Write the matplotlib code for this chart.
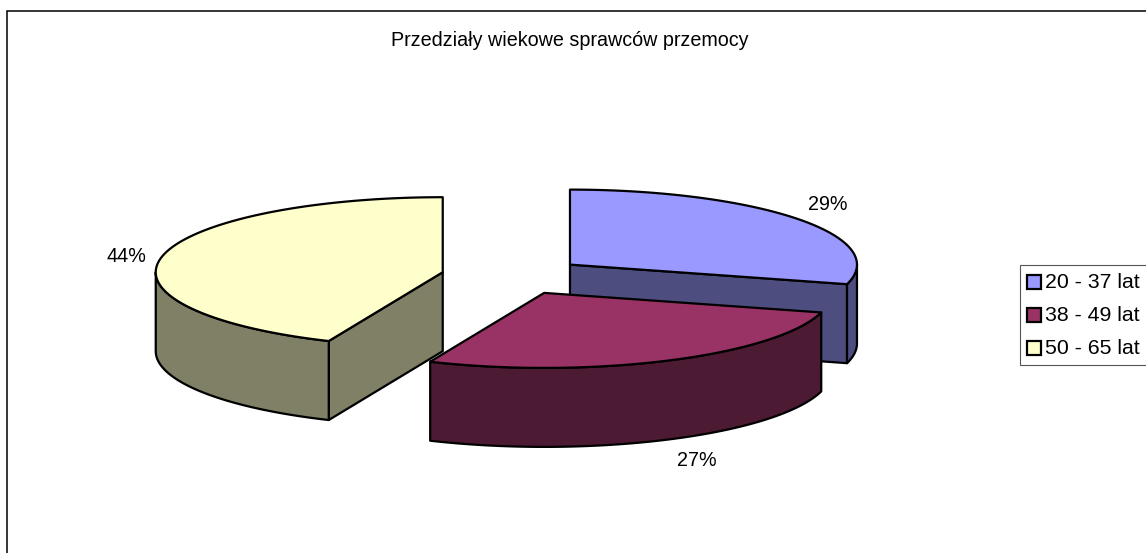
import numpy as np
import matplotlib
matplotlib.use("Agg")
import matplotlib.pyplot as plt
from matplotlib.patches import Polygon, Rectangle

plt.rcParams['font.family'] = ['Liberation Sans', 'DejaVu Sans']

title = "Przedziały wiekowe sprawców przemocy"
categories = ["20 - 37 lat", "38 - 49 lat", "50 - 65 lat"]
values = [29.2, 27.3, 43.5]
top_colors = ["#9999FF", "#993366", "#FFFFCC"]
side_colors = ["#4D4D80", "#4D1A33", "#808066"]

W, H = 1146, 553
CX, CY = 513.0, 276.0     # pie centre
A, B = 287.0, 75.0        # ellipse radii
EXPLODE = 0.25
DEPTH = 79.0
LW = 1.6
label_pos = [(828, 204), (697, 460), (126, 256)]

fig = plt.figure(figsize=(W / 100, H / 100), dpi=100, facecolor="white")
ax = fig.add_axes([0, 0, 1, 1])
ax.set_xlim(0, W)
ax.set_ylim(H, 0)
ax.axis("off")

# outer chart frame (runs off the right and bottom of the image)
ax.add_patch(Rectangle((6.5, 10.5), W + 20, H + 20, fc="white", ec="black", lw=1.1, zorder=0))


def pt(theta, ox, oy, dz=0.0):
    return np.column_stack([ox + A * np.sin(theta), oy - B * np.cos(theta) + dz])


order = [0, 2, 1]  # back to front
cum = np.concatenate([[0], np.cumsum(values)])
for z, i in enumerate(order):
    i0, i1 = 2 * np.pi * cum[i] / 100, 2 * np.pi * cum[i + 1] / 100
    mid = (i0 + i1) / 2
    ox = CX + EXPLODE * A * np.sin(mid)
    oy = CY - EXPLODE * B * np.cos(mid)
    kw = dict(ec="black", lw=LW, joinstyle="round", zorder=2 + z)
    apex = np.array([[ox, oy]])
    apex_b = np.array([[ox, oy + DEPTH]])
    # straight cut wall facing the viewer
    th = i1 if i == 0 else i0
    if i != 1:
        p = pt(np.array([th]), ox, oy)
        q = pt(np.array([th]), ox, oy, DEPTH)
        ax.add_patch(Polygon(np.vstack([apex, p, q, apex_b]), fc=side_colors[i], **kw))
    # outer rim: only the part facing the viewer (lower half of the ellipse)
    t = np.linspace(i0, i1, 300)
    s = t[(t >= np.pi / 2) & (t <= 3 * np.pi / 2)]
    if i == 0:
        s = np.linspace(np.pi / 2, i1, 50)
    if len(s) > 1:
        ax.add_patch(Polygon(np.vstack([pt(s, ox, oy), pt(s, ox, oy, DEPTH)[::-1]]),
                             fc=side_colors[i], **kw))
    # top face
    ax.add_patch(Polygon(np.vstack([apex, pt(t, ox, oy)]), fc=top_colors[i], **kw))

ax.text(570, 41, title, fontsize=14.25, ha="center", va="center", zorder=20)
for i, v in enumerate(values):
    ax.text(*label_pos[i], f"{round(v)}%", fontsize=14.25, ha="center", va="center", zorder=20)

# legend
ax.add_patch(Rectangle((1019.5, 265), W, 100, fc="white", ec="#555555", lw=0.8, zorder=10))
for i, c in enumerate(categories):
    y = 282 + i * 33.2
    ax.add_patch(Rectangle((1027, y - 7), 14, 14, fc=top_colors[i], ec="black", lw=1.6, zorder=11))
    ax.text(1045, y, c, fontsize=15.3, ha="left", va="center", zorder=11)

fig.savefig("out.png", dpi=100, facecolor="white")
